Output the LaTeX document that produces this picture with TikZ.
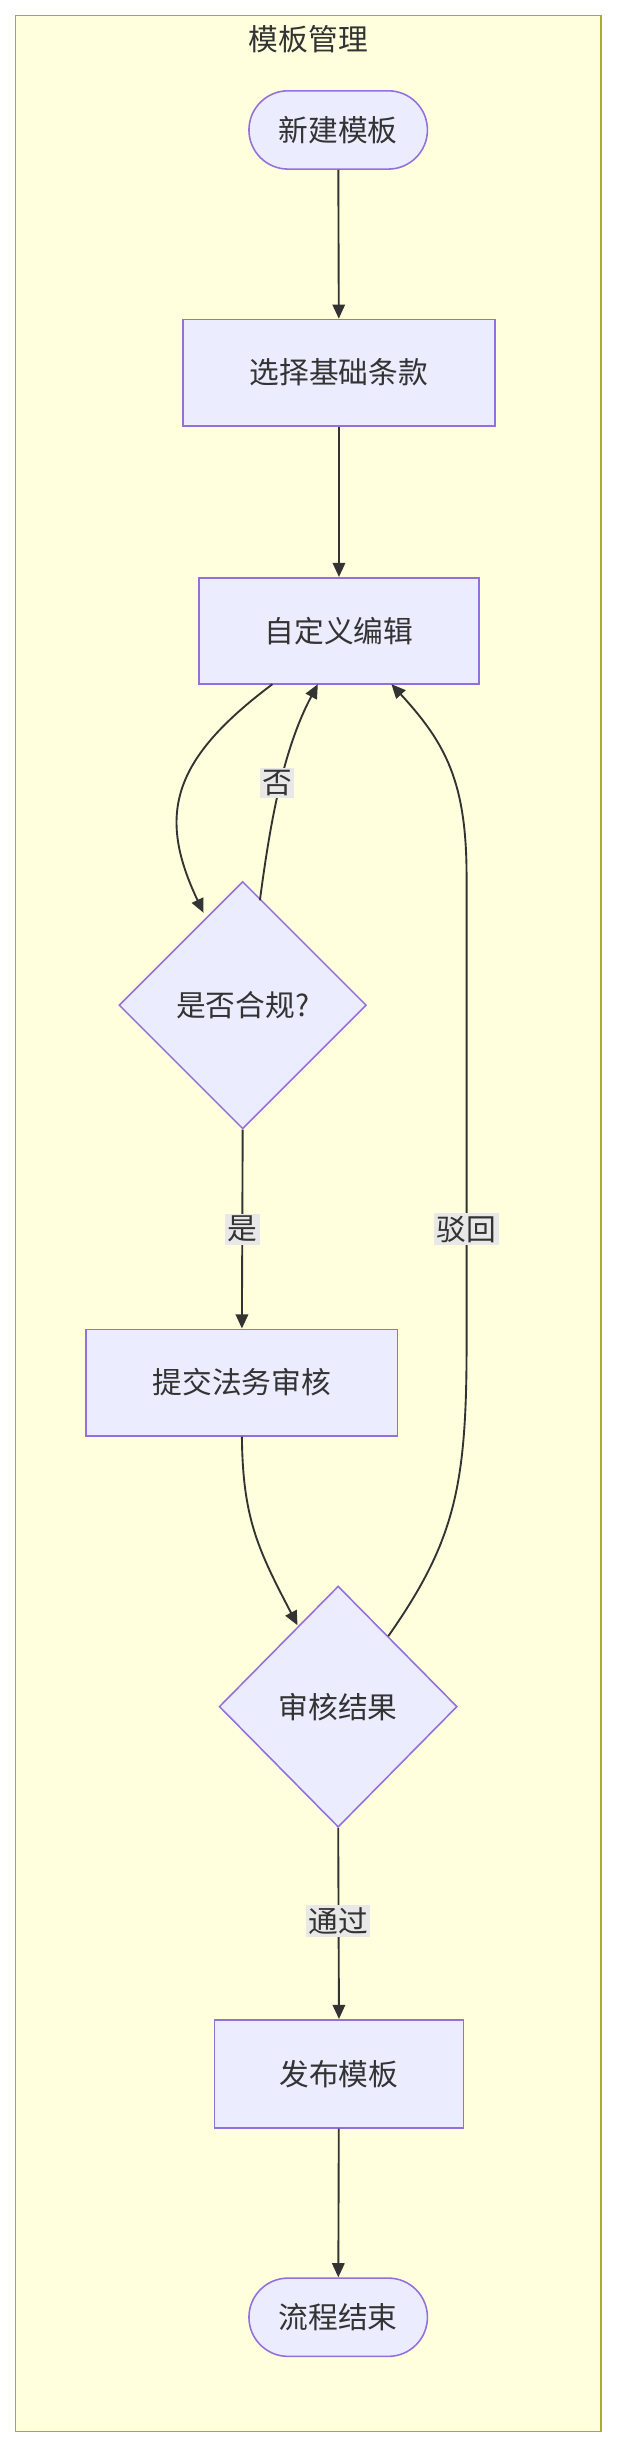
\documentclass[tikz,border=0pt]{standalone}
\usepackage{fontspec}
\setmainfont{Noto Sans CJK SC}
\usetikzlibrary{shapes.geometric,arrows.meta}
\definecolor{nfill}{HTML}{ECECFF}
\definecolor{nline}{HTML}{9370DB}
\definecolor{cfill}{HTML}{FFFFDE}
\definecolor{cline}{HTML}{AAAA33}
\definecolor{eline}{HTML}{333333}
\definecolor{lbg}{HTML}{E8E8E8}
\begin{document}
\begin{tikzpicture}[x=1pt,y=-1pt,
  every node/.style={font=\fontsize{19}{22}\selectfont,text=eline},
  box/.style={draw=nline,fill=nfill,line width=1pt,minimum height=68pt,inner sep=0pt},
  term/.style={draw=nline,fill=nfill,line width=1pt,rounded corners=25pt,minimum width=114pt,minimum height=50pt},
  dia/.style={draw=nline,fill=nfill,line width=1pt,diamond,inner sep=0pt},
  edge/.style={draw=eline,line width=1.2pt,-{Triangle[length=9pt,width=8pt]}},
  lab/.style={fill=lbg,inner sep=1.5pt}]
\useasboundingbox (0,0) rectangle (395,1568);
\draw[fill=cfill,draw=cline,line width=1pt] (10,10) rectangle (384,1553);
\node (title) at (197,25) {模板管理};
\node[term] (a) at (216,83) {新建模板};
\node[box,minimum width=199pt] (b) at (216.5,238) {选择基础条款};
\node[box,minimum width=179pt] (c) at (216.5,403) {自定义编辑};
\node[dia,minimum width=158pt,minimum height=158pt] (d) at (155,642) {是否合规?};
\node[box,minimum width=199pt] (e) at (154.5,883) {提交法务审核};
\node[dia,minimum width=152pt,minimum height=154pt] (f) at (216,1090) {审核结果};
\node[box,minimum width=159pt,minimum height=69pt] (g) at (216.5,1324.5) {发布模板};
\node[term] (h) at (216,1480) {流程结束};
\draw[edge] (a) -- (b);
\draw[edge] (b) -- (c);
\draw[edge] (174,437) .. controls (110,485) and (100,520) .. (130,583);
\draw[edge] (166,575) .. controls (172,530) and (180,480) .. (203,437);
\node[lab] (l1) at (177,500) {否};
\draw[edge] (d.south) -- (e.north);
\node[lab] (l2) at (155,785) {是};
\draw[edge] (e.south) .. controls (155,970) and (165,990) .. (190,1038);
\draw[edge] (248,1045) .. controls (290,985) and (298,950) .. (298,860) -- (298,560) .. controls (298,500) and (285,475) .. (250,437);
\node[lab] (l3) at (298,785) {驳回};
\draw[edge] (f.south) -- (g.north);
\node[lab] (l4) at (216,1227) {通过};
\draw[edge] (g) -- (h);
\end{tikzpicture}
\end{document}
